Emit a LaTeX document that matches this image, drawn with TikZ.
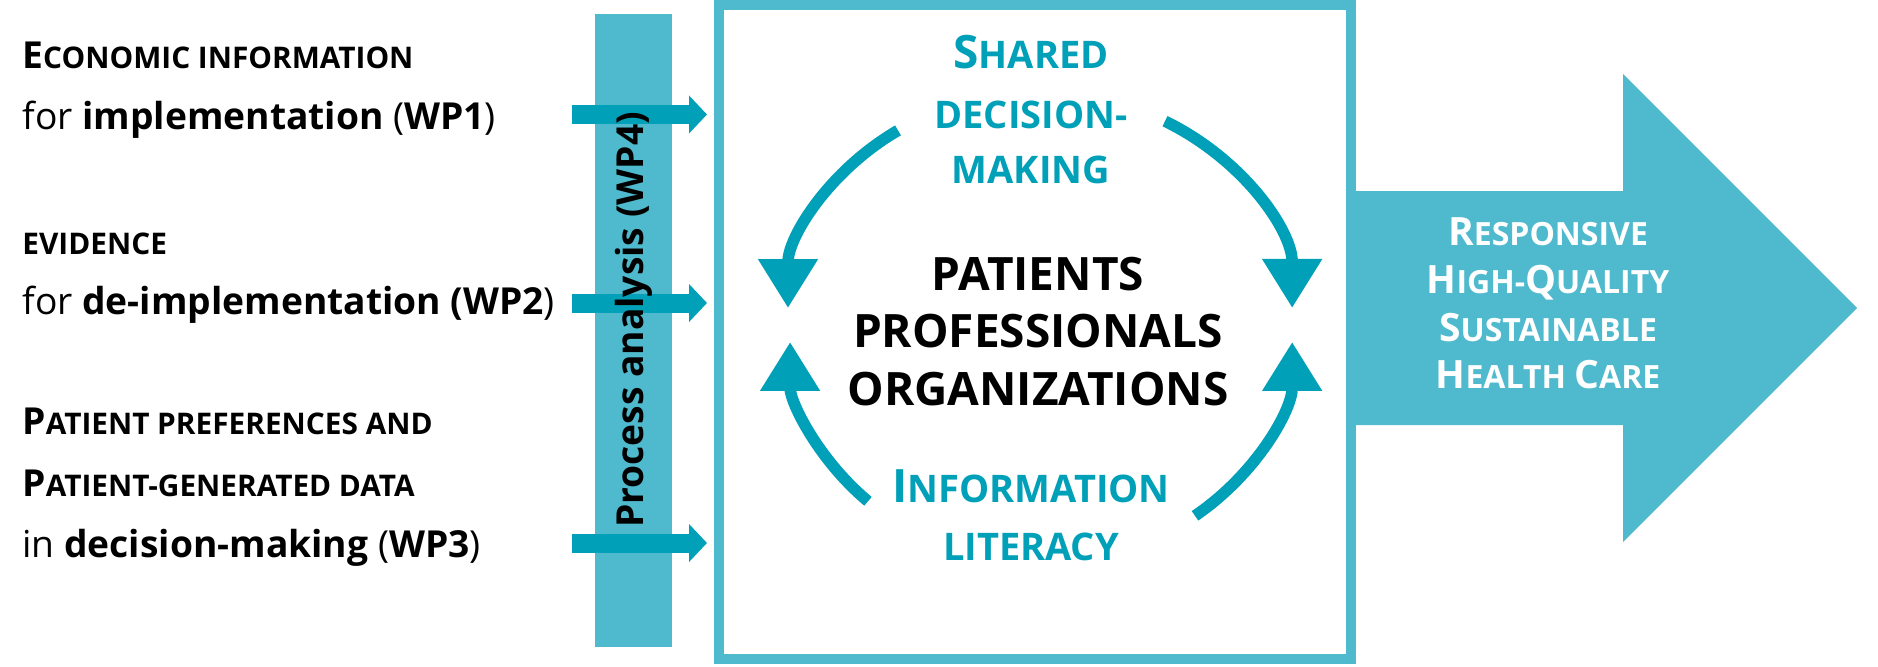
\documentclass[tikz,border=0pt]{standalone}
\usepackage{fontspec}
\setmainfont{Open Sans}
\usetikzlibrary{arrows.meta}
\definecolor{barcol}{RGB}{79,186,205}
\definecolor{dteal}{RGB}{0,160,184}
\newcommand\lbig{\fontsize{18.6}{22}\selectfont}
\newcommand\lsml{\fontsize{14.9}{18}\selectfont}
\newcommand\tbig{\fontsize{23}{27}\selectfont}
\newcommand\tsml{\fontsize{19}{23}\selectfont}
\newcommand\wbig{\fontsize{19.5}{23}\selectfont}
\newcommand\wsml{\fontsize{16}{19}\selectfont}
\tikzset{
  lefttxt/.style={anchor=base west, inner sep=0pt, text=black},
  mid/.style={anchor=base, inner sep=0pt},
  smallarr/.style={draw=dteal, line width=9.5pt, -{Triangle[length=9pt,width=18.5pt]}},
  curvarr/.style={draw=dteal, line width=5.75pt, -{Triangle[length=24.5pt,width=28.5pt]}},
}
\begin{document}
\begin{tikzpicture}[x=0.5pt,y=0.5pt]
\useasboundingbox (0,0) rectangle (1878,666);
% process bar
\fill[barcol] (595,652) rectangle (672,19);
% small arrows
\coordinate (a1) at (572,551.5); \coordinate (b1) at (707,551.5);
\coordinate (a2) at (572,363);   \coordinate (b2) at (707,363);
\coordinate (a3) at (572,123);   \coordinate (b3) at (707,123);
\draw[smallarr] (a1) -- (b1);
\draw[smallarr] (a2) -- (b2);
\draw[smallarr] (a3) -- (b3);
\node[rotate=90, inner sep=0pt, font=\lbig\bfseries] (wp4) at (634,346) {Process analysis (WP4)};
% central box
\draw[barcol, line width=5pt, fill=white] (719,661) rectangle (1351,7);
% big arrow
\fill[barcol] (1356,475) -- (1623,475) -- (1623,592) -- (1857,358) -- (1623,124) -- (1623,241) -- (1356,241) -- cycle;
% left texts
\node[lefttxt] (t1) at (22,598) {\bfseries\lbig E\lsml CONOMIC INFORMATION};
\node[lefttxt] (t2) at (22,537) {\lbig for \textbf{implementation} (\textbf{WP1})};
\node[lefttxt] (t3) at (22,412) {\bfseries\lsml EVIDENCE};
\node[lefttxt] (t4) at (22,352) {\lbig for \textbf{de-implementation (WP2})};
\node[lefttxt] (t5) at (22,232) {\bfseries\lbig P\lsml ATIENT PREFERENCES AND};
\node[lefttxt] (t6) at (22,170) {\bfseries\lbig P\lsml ATIENT-GENERATED DATA};
\node[lefttxt] (t7) at (22,109) {\lbig in \textbf{decision-making} (\textbf{WP3})};
% curved arrows
\coordinate (c1) at (898,535.6);
\coordinate (c2) at (1165,544.8);
\coordinate (c3) at (868,164.7);
\coordinate (c4) at (1195,150.2);
\draw[curvarr] (c1) arc[start angle=124.3, end angle=180, x radius=126pt, y radius=107.5pt];
\draw[curvarr] (c2) arc[start angle=60.3, end angle=0, x radius=126pt, y radius=107.5pt];
\draw[curvarr] (c3) arc[start angle=226.4, end angle=180, x radius=125.5pt, y radius=110pt];
\draw[curvarr] (c4) arc[start angle=307.8, end angle=360, x radius=125.5pt, y radius=110pt];
% teal texts
\node[mid, text=dteal, font=\bfseries] (s1) at (1031,597) {\tbig S\tsml HARED};
\node[mid, text=dteal, font=\bfseries] (s2) at (1031,538) {\tsml DECISION-};
\node[mid, text=dteal, font=\bfseries] (s3) at (1031,483) {\tsml MAKING};
\node[mid, text=dteal, font=\bfseries] (i1) at (1031,164) {\tbig I\tsml NFORMATION};
\node[mid, text=dteal, font=\bfseries] (i2) at (1031,106) {\tsml LITERACY};
% center texts
\node[mid, font=\tbig\bfseries] (p1) at (1038,376) {PATIENTS};
\node[mid, font=\tbig\bfseries] (p2) at (1038,318.5) {PROFESSIONALS};
\node[mid, font=\tbig\bfseries] (p3) at (1038,261) {ORGANIZATIONS};
% arrow texts
\node[mid, text=white, font=\bfseries] (r1) at (1548,421) {\wbig R\wsml ESPONSIVE};
\node[mid, text=white, font=\bfseries] (r2) at (1548,373) {\wbig H\wsml IGH-\wbig Q\wsml UALITY};
\node[mid, text=white, font=\bfseries] (r3) at (1548,325) {\wbig S\wsml USTAINABLE};
\node[mid, text=white, font=\bfseries] (r4) at (1548,278) {\wbig H\wsml EALTH \wbig C\wsml ARE};
\end{tikzpicture}
\end{document}
